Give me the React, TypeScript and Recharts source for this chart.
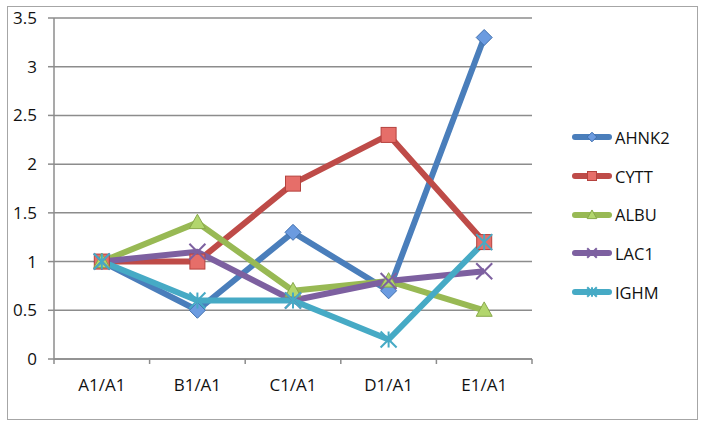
import React from 'react';
import { LineChart, Line, XAxis, YAxis, CartesianGrid, Legend } from 'recharts';

const categories = ['A1/A1', 'B1/A1', 'C1/A1', 'D1/A1', 'E1/A1'];
const ahnk2 = [1, 0.5, 1.3, 0.7, 3.3];
const cytt = [1, 1, 1.8, 2.3, 1.2];
const albu = [1, 1.4, 0.7, 0.8, 0.5];
const lac1 = [1, 1.1, 0.6, 0.8, 0.9];
const ighm = [1, 0.6, 0.6, 0.2, 1.2];
const yTicks = [0, 0.5, 1, 1.5, 2, 2.5, 3, 3.5];

const seriesNames = ['AHNK2', 'CYTT', 'ALBU', 'LAC1', 'IGHM'];
const seriesValues = [ahnk2, cytt, albu, lac1, ighm];
const seriesColors = ['#4a7ebb', '#be4b48', '#98b954', '#7d60a0', '#46aac5'];
const markerKinds = ['diamond', 'square', 'triangle', 'x', 'star'];

const data = categories.map((c, i) => {
  const row: any = { category: c };
  seriesNames.forEach((n, k) => {
    row[n] = seriesValues[k][i];
  });
  return row;
});

const FONT = '"Open Sans", sans-serif';
const GRID = '#8c8c8c';
const W = 704;
const H = 427;
const M = { top: 18, right: 172, bottom: 38, left: 0 };
const YW = 54;
const plotW = W - M.left - M.right - YW;
const band = plotW / categories.length;

function Marker({ kind, cx, cy, color, scale = 1 }: any) {
  const s = 8 * scale;
  if (cx == null || cy == null) return null;
  switch (kind) {
    case 'diamond':
      return (
        <polygon
          points={`${cx},${cy - s} ${cx + s},${cy} ${cx},${cy + s} ${cx - s},${cy}`}
          fill="#6b9be0"
          stroke="#3f6fae"
          strokeWidth={1}
        />
      );
    case 'square':
      return (
        <rect
          x={cx - 7.5 * scale}
          y={cy - 7.5 * scale}
          width={15 * scale}
          height={15 * scale}
          fill="#e66e69"
          stroke="#b4423e"
          strokeWidth={1}
        />
      );
    case 'triangle':
      return (
        <polygon
          points={`${cx},${cy - s * 1.05} ${cx + s},${cy + s * 0.75} ${cx - s},${cy + s * 0.75}`}
          fill="#b2d66d"
          stroke="#88a84a"
          strokeWidth={1}
        />
      );
    case 'x':
      return (
        <g stroke={color} strokeWidth={2}>
          <line x1={cx - s} y1={cy - s} x2={cx + s} y2={cy + s} />
          <line x1={cx - s} y1={cy + s} x2={cx + s} y2={cy - s} />
        </g>
      );
    case 'star':
      return (
        <g stroke={color} strokeWidth={2}>
          <line x1={cx - s} y1={cy - s} x2={cx + s} y2={cy + s} />
          <line x1={cx - s} y1={cy + s} x2={cx + s} y2={cy - s} />
          <line x1={cx} y1={cy - s} x2={cx} y2={cy + s} />
        </g>
      );
    default:
      return null;
  }
}

function XTick(props: any) {
  const { x, y, payload, index } = props;
  const isLast = index === categories.length - 1;
  return (
    <g>
      <line x1={x - band / 2} y1={y} x2={x - band / 2} y2={y + 5} stroke={GRID} strokeWidth={1.5} />
      {isLast && <line x1={x + band / 2} y1={y} x2={x + band / 2} y2={y + 5} stroke={GRID} strokeWidth={1.5} />}
      <text x={x} y={y + 32} textAnchor="middle" fontFamily={FONT} fontSize={17} fill="#111">
        {payload.value}
      </text>
    </g>
  );
}

function LegendContent() {
  return (
    <div style={{ fontFamily: FONT, fontSize: 16.5, color: '#111' }}>
      {seriesNames.map((n, k) => (
        <div key={n} style={{ display: 'flex', alignItems: 'center', height: 38.7 }}>
          <svg width={42} height={16} style={{ display: 'block' }}>
            <line x1={4} y1={8} x2={38} y2={8} stroke={seriesColors[k]} strokeWidth={6} strokeLinecap="round" />
            <Marker kind={markerKinds[k]} cx={21} cy={8} color={seriesColors[k]} scale={0.6} />
          </svg>
          <span style={{ marginLeft: 2 }}>{n}</span>
        </div>
      ))}
    </div>
  );
}

export default function App() {
  return (
    <div style={{ position: 'absolute', left: 0, top: 0, width: W, height: H, background: '#fff' }}>
      <div
        style={{
          position: 'absolute',
          left: 7,
          top: 6,
          width: 689,
          height: 412,
          border: '1.5px solid #a6a6a6',
        }}
      />
      <LineChart width={W} height={H} data={data} margin={M} style={{ position: 'absolute', left: 0, top: 0 }}>
        <CartesianGrid vertical={false} stroke={GRID} strokeWidth={1.5} />
        <XAxis
          dataKey="category"
          scale="band"
          height={30}
          tickLine={false}
          tickSize={0}
          tickMargin={0}
          axisLine={{ stroke: GRID, strokeWidth: 1.5 }}
          tick={<XTick />}
          interval={0}
        />
        <YAxis
          width={YW}
          domain={[0, 3.5]}
          ticks={yTicks}
          interval={0}
          tickSize={6}
          tickMargin={11}
          axisLine={{ stroke: GRID, strokeWidth: 1.5 }}
          tickLine={{ stroke: GRID, strokeWidth: 1.5 }}
          tick={{ fontFamily: FONT, fontSize: 17, fill: '#111' }}
        />
        <Legend
          layout="vertical"
          align="center"
          verticalAlign="middle"
          wrapperStyle={{ left: 571, top: 118, width: 120 }}
          content={<LegendContent />}
        />
        {seriesNames.map((n, k) => (
          <Line
            key={n}
            dataKey={n}
            stroke={seriesColors[k]}
            strokeWidth={6}
            isAnimationActive={false}
            strokeLinejoin="round"
            dot={(p: any) => (
              <Marker key={`${n}-${p.index}`} kind={markerKinds[k]} cx={p.cx} cy={p.cy} color={seriesColors[k]} />
            )}
            activeDot={false}
          />
        ))}
      </LineChart>
    </div>
  );
}
